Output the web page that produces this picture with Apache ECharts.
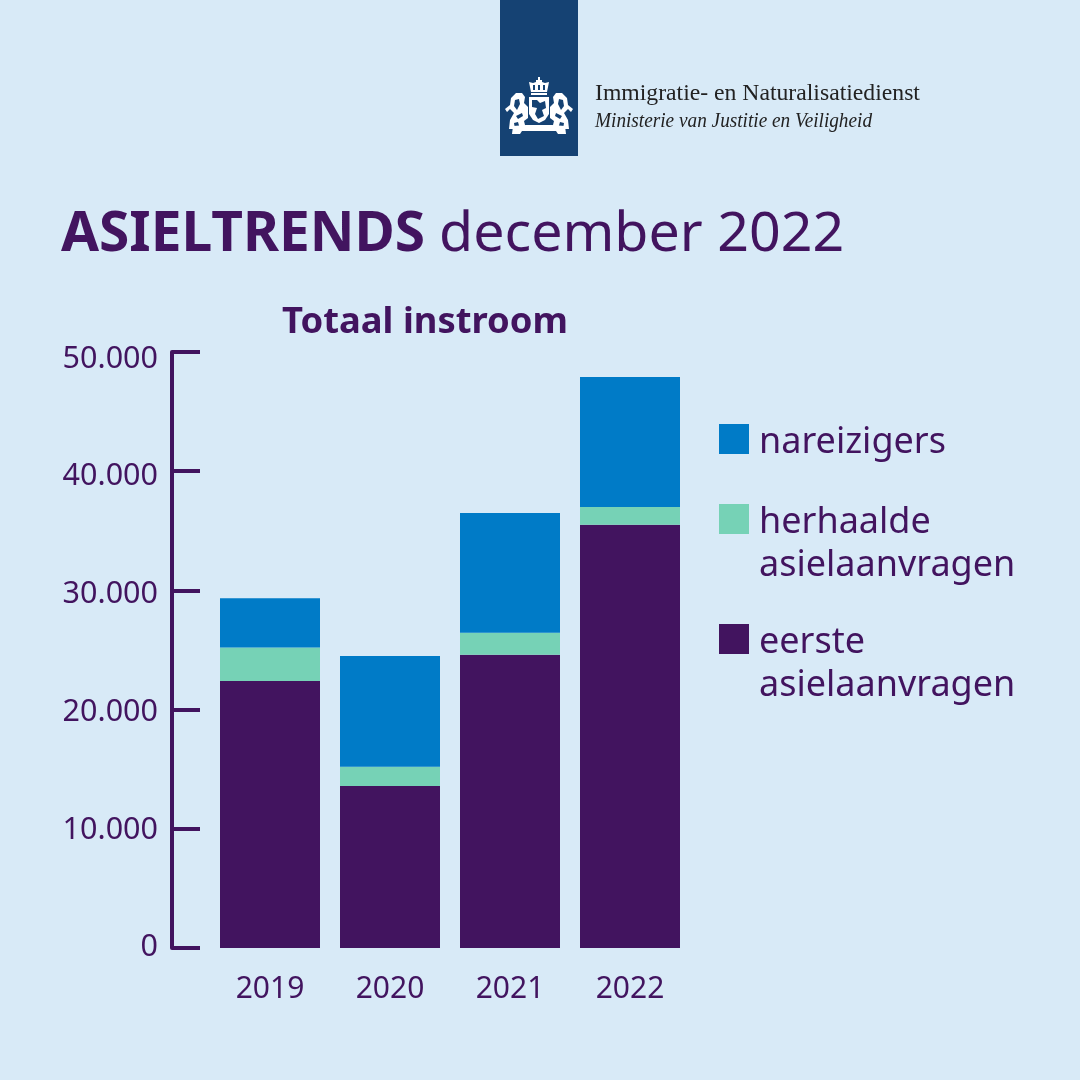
<!DOCTYPE html>
<html>
<head>
<meta charset="utf-8">
<title>Asieltrends december 2022</title>
<style>
html, body { margin: 0; padding: 0; background: #d8eaf7; }
#main { width: 1080px; height: 1080px; }
</style>
<script src="https://cdn.jsdelivr.net/npm/echarts@6/dist/echarts.min.js"></script>
</head>
<body>
<div id="main"></div>
<script>
var years = ["2019", "2020", "2021", "2022"];
var eerste = [22400, 13600, 24600, 35500];
var herhaalde = [2800, 1600, 1850, 1500];
var nareizigers = [4150, 9300, 10050, 10900];
var eersteName = "eerste\nasielaanvragen";
var herhaaldeName = "herhaalde\nasielaanvragen";
var nareizigersName = "nareizigers";

var purple = "#42145f";
var green = "#76d2b6";
var blue = "#007bc7";
var navy = "#154273";
var font = "'Noto Sans', sans-serif";

var myChart = echarts.init(document.getElementById("main"));

// legenda met het blokje bij de eerste regel, dat kan de gewone legend niet
function legendItem(y, color, name) {
  return [
    { type: "rect", left: 719, top: y, shape: { width: 30, height: 30 }, style: { fill: color } },
    {
      type: "text", left: 759, top: y - 3,
      style: { text: name, fill: purple, font: "36px " + font, lineHeight: 43 }
    }
  ];
}

// wapen, ruw nagetekend
var crest = [
  [[538, 77], [540, 77], [540, 80], [542, 80], [542, 82], [545, 83], [549, 82], [547, 92], [531, 92], [529, 82], [533, 83], [536, 82], [536, 80], [538, 80]],
  [[531, 93], [547, 93], [547, 95], [531, 95]],
  [[529, 97], [549, 97], [549, 114], [545, 120], [539, 123], [533, 120], [529, 114]],
  [[505, 109], [510, 105], [511, 98], [516, 93], [522, 93], [525, 97], [524, 103], [528, 107], [528, 118], [524, 121], [526, 129], [520, 129], [518, 122], [514, 123], [515, 129], [509, 129], [510, 120], [514, 113], [510, 109], [507, 112]],
  [[573, 109], [568, 105], [567, 98], [562, 93], [556, 93], [553, 97], [554, 103], [550, 107], [550, 118], [554, 121], [552, 129], [558, 129], [560, 122], [564, 123], [563, 129], [569, 129], [568, 120], [564, 113], [568, 109], [571, 112]],
  [[513, 126], [526, 125], [552, 125], [565, 126], [566, 134], [558, 134], [556, 131], [522, 131], [520, 134], [512, 134]]
];
var crestDark = [
  [[532, 100], [537, 100], [540, 103], [545, 101], [546, 108], [542, 110], [544, 116], [538, 119], [535, 114], [537, 108], [532, 107]],
  [[533, 85], [535, 85], [535, 90], [533, 90]],
  [[538, 85], [540, 85], [540, 90], [538, 90]],
  [[543, 85], [545, 85], [545, 90], [543, 90]],
  [[515, 100], [519, 99], [520, 104], [517, 110], [514, 106]],
  [[563, 100], [559, 99], [558, 104], [561, 110], [564, 106]],
  [[516, 116], [522, 113], [523, 116], [518, 119]],
  [[562, 116], [556, 113], [555, 116], [560, 119]]
];
var crestItems = crest.map(function (pts) {
  return { type: "polygon", shape: { points: pts }, style: { fill: "#fff" } };
}).concat(crestDark.map(function (pts) {
  return { type: "polygon", shape: { points: pts }, style: { fill: navy } };
}));

// de labels staan in het origineel niet precies bij de tick: eigen padding per label
var labelPad = {
  50000: [14, 0, 0, 0],
  40000: [10, 0, 0, 0],
  30000: [8, 0, 0, 0],
  20000: [6, 0, 0, 0],
  10000: [4, 0, 0, 0],
  0: [0, 0, 2, 0]
};
var labelRich = {};
Object.keys(labelPad).forEach(function (k) {
  labelRich["v" + k] = { color: purple, fontFamily: font, fontSize: 30.5, padding: labelPad[k] };
});

var option = {
  backgroundColor: "#d8eaf7",
  animation: false,
  title: [
    {
      text: "{b|ASIELTRENDS} {r|december 2022}",
      left: 56,
      top: 202,
      textStyle: {
        fontWeight: "normal",
        rich: {
          b: { fontFamily: font, fontSize: 55, fontWeight: "bold", color: purple },
          r: { fontFamily: font, fontSize: 55.5, fontWeight: "normal", color: purple, padding: [0, 0, 0, 9] }
        }
      }
    },
    {
      text: "Totaal instroom",
      left: 277,
      top: 300,
      textStyle: { fontFamily: font, fontSize: 36.4, fontWeight: "bold", color: purple }
    }
  ],
  grid: { left: 210, right: 390, top: 352, bottom: 132 },
  xAxis: {
    type: "category",
    data: years,
    axisLine: { show: false },
    axisTick: { show: false },
    axisLabel: { color: purple, fontFamily: font, fontSize: 30, margin: 26 }
  },
  yAxis: {
    type: "value",
    min: 0,
    max: 50000,
    interval: 10000,
    offset: 38,
    axisLine: { show: true, lineStyle: { color: purple, width: 4 } },
    axisTick: { show: true, inside: true, length: 28, lineStyle: { color: purple, width: 4 } },
    splitLine: { show: false },
    axisLabel: {
      margin: 14,
      rich: labelRich,
      formatter: function (v) {
        var txt = v === 0 ? "0" : String(v / 1000) + ".000";
        return "{v" + v + "|" + txt + "}";
      }
    }
  },
  series: [
    { name: eersteName, type: "bar", stack: "totaal", barWidth: 100, data: eerste, itemStyle: { color: purple } },
    { name: herhaaldeName, type: "bar", stack: "totaal", barWidth: 100, data: herhaalde, itemStyle: { color: green } },
    { name: nareizigersName, type: "bar", stack: "totaal", barWidth: 100, data: nareizigers, itemStyle: { color: blue } }
  ],
  graphic: [
    { type: "rect", left: 500, top: 0, shape: { width: 78, height: 156 }, style: { fill: navy } },
    { type: "group", silent: true, children: crestItems },
    {
      type: "text", x: 595, y: 82,
      style: { text: "Immigratie- en Naturalisatiedienst", fill: "#222", font: "23.7px 'Liberation Serif', serif" }
    },
    {
      type: "text", x: 595, y: 111, scaleX: 0.917,
      style: { text: "Ministerie van Justitie en Veiligheid", fill: "#222", font: "italic 21px 'Liberation Serif', serif" }
    }
  ].concat(
    legendItem(424, blue, nareizigersName),
    legendItem(504, green, herhaaldeName),
    legendItem(624, purple, eersteName)
  )
};
myChart.setOption(option);
window.addEventListener("resize", function () {
  myChart.resize();
});
</script>
</body>
</html>
